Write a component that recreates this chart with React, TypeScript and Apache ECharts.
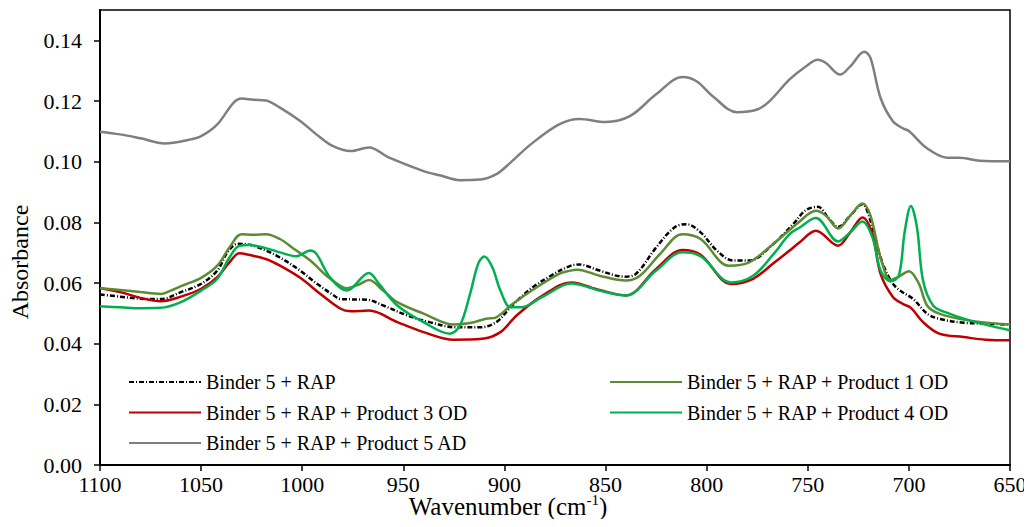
import React, { useEffect, useRef } from "react";
import * as echarts from "echarts";

const FONT = "Liberation Serif";
const LABEL_FONT = "Times New Roman";

const seriesNames = [
  "Binder 5 + RAP",
  "Binder 5 + RAP + Product 1 OD",
  "Binder 5 + RAP + Product 3 OD",
  "Binder 5 + RAP + Product 4 OD",
  "Binder 5 + RAP + Product 5 AD",
];

const xTicks = { min: 650, max: 1100, interval: 50 };
const yTicks = { min: 0, max: 0.15, interval: 0.02 };

const binder: [number, number][] = [
  [1100, 0.0562], [1090, 0.0555], [1080, 0.0548], [1070, 0.0547], [1060, 0.057], [1050, 0.0597],
  [1042, 0.0641], [1037, 0.0701], [1032, 0.0729], [1026, 0.0726], [1018, 0.0707], [1011, 0.0684],
  [1001, 0.0641], [993, 0.0599], [985, 0.0562], [981, 0.0547], [968, 0.0545], [960, 0.0526],
  [948, 0.0493], [937, 0.0471], [924, 0.0454], [912, 0.0454], [904, 0.0471], [897, 0.052],
  [887, 0.0581], [877, 0.0624], [868, 0.0655], [863, 0.0661], [853, 0.0641], [841, 0.0621],
  [835, 0.063], [825, 0.0717], [816, 0.0783], [810, 0.0794], [803, 0.0767], [795, 0.0707],
  [787, 0.0674], [779, 0.0674], [767, 0.0729], [757, 0.0796], [751, 0.084], [745, 0.0851],
  [740, 0.0816], [735, 0.0785], [729, 0.0822], [723, 0.086], [719, 0.0805], [714, 0.0684],
  [709, 0.0608], [705, 0.0578], [698, 0.0548], [691, 0.0499], [685, 0.0482], [673, 0.0469],
  [660, 0.0466], [650, 0.0462],
];

const product1: [number, number][] = [
  [1100, 0.0583], [1090, 0.0577], [1080, 0.057], [1070, 0.0564], [1065, 0.0575], [1059, 0.0592],
  [1050, 0.0617], [1042, 0.0657], [1036, 0.0717], [1030, 0.0761], [1024, 0.0759], [1018, 0.0761],
  [1011, 0.0745], [1004, 0.0712], [996, 0.0674], [988, 0.0624], [981, 0.059], [978, 0.0583],
  [972, 0.0595], [967, 0.061], [960, 0.0575], [953, 0.0537], [940, 0.0499], [925, 0.0463],
  [917, 0.0468], [909, 0.0482], [904, 0.0487], [896, 0.0531], [884, 0.0586], [873, 0.063],
  [868, 0.064], [864, 0.0644], [853, 0.0624], [840, 0.0608], [833, 0.0624], [823, 0.0696],
  [812, 0.0761], [803, 0.0745], [789, 0.0657], [779, 0.0668], [767, 0.0729], [754, 0.0803],
  [746, 0.0838], [741, 0.0822], [735, 0.078], [729, 0.0822], [723, 0.0862], [719, 0.0822],
  [714, 0.0684], [709, 0.061], [705, 0.0621], [700, 0.0639], [695, 0.0597], [691, 0.0526],
  [685, 0.0499], [670, 0.0476], [650, 0.0463],
];

const product3: [number, number][] = [
  [1100, 0.0583], [1090, 0.057], [1080, 0.0551], [1070, 0.054], [1060, 0.0555], [1050, 0.0581],
  [1042, 0.0619], [1036, 0.0668], [1031, 0.0698], [1026, 0.0692], [1018, 0.0679], [1011, 0.0657],
  [1001, 0.0617], [991, 0.0564], [981, 0.0515], [976, 0.0507], [967, 0.0509], [953, 0.0471],
  [940, 0.0438], [925, 0.0413], [911, 0.0416], [902, 0.0438], [894, 0.0493], [881, 0.0559],
  [867, 0.0602], [853, 0.0577], [840, 0.0559], [825, 0.0646], [812, 0.0709], [803, 0.0693],
  [788, 0.0597], [777, 0.0614], [767, 0.0665], [759, 0.0707], [754, 0.0734], [746, 0.0772],
  [735, 0.0723], [729, 0.0767], [723, 0.0816], [718, 0.0761], [714, 0.063], [708, 0.0555],
  [703, 0.0531], [699, 0.0518], [693, 0.0471], [685, 0.0433], [673, 0.0422], [662, 0.0413],
  [650, 0.0411],
];

const product4: [number, number][] = [
  [1100, 0.0523], [1090, 0.052], [1080, 0.0517], [1070, 0.0518], [1060, 0.0537], [1050, 0.0575],
  [1042, 0.0614], [1036, 0.0684], [1031, 0.0723], [1026, 0.0725], [1018, 0.0715], [1011, 0.0701],
  [1003, 0.0688], [996, 0.0707], [993, 0.0696], [986, 0.0616], [978, 0.0575], [967, 0.0633],
  [962, 0.0597], [953, 0.0526], [940, 0.0471], [927, 0.0433], [922, 0.046], [917, 0.0564],
  [913, 0.0663], [910, 0.0687], [906, 0.0652], [902, 0.0575], [897, 0.052], [892, 0.052],
  [881, 0.0555], [867, 0.0598], [853, 0.0575], [840, 0.0559], [825, 0.0641], [812, 0.0701],
  [803, 0.0688], [788, 0.0602], [777, 0.0624], [767, 0.0695], [759, 0.0761], [754, 0.0783],
  [746, 0.0814], [735, 0.0737], [729, 0.0767], [723, 0.0803], [718, 0.075], [714, 0.0641],
  [709, 0.0606], [705, 0.0624], [702, 0.0772], [699, 0.0854], [696, 0.0783], [693, 0.0608],
  [688, 0.0526], [680, 0.0499], [667, 0.0471], [650, 0.0444],
];

const product5: [number, number][] = [
  [1100, 0.1099], [1090, 0.109], [1080, 0.1077], [1068, 0.106], [1056, 0.1072], [1050, 0.1084],
  [1042, 0.1123], [1034, 0.1194], [1030, 0.1208], [1024, 0.1204], [1018, 0.1202], [1011, 0.1178],
  [1001, 0.1134], [993, 0.109], [985, 0.1052], [976, 0.1035], [967, 0.1047], [957, 0.1013],
  [940, 0.0969], [932, 0.0955], [922, 0.0939], [912, 0.0941], [904, 0.0959], [897, 0.0997],
  [887, 0.1057], [873, 0.1123], [863, 0.1141], [850, 0.1131], [838, 0.115], [825, 0.1222],
  [812, 0.1279], [805, 0.1265], [797, 0.1216], [785, 0.1163], [775, 0.1172], [769, 0.1199],
  [759, 0.1271], [751, 0.1314], [745, 0.1336], [741, 0.1325], [734, 0.1287], [729, 0.1314],
  [722, 0.1362], [719, 0.1342], [714, 0.121], [708, 0.1134], [703, 0.111], [700, 0.1101],
  [691, 0.1044], [681, 0.1013], [675, 0.1013], [665, 0.1003], [650, 0.1001],
];

export default function App() {
  const ref = useRef<HTMLDivElement>(null);
  useEffect(() => {
    if (!ref.current) return;
    const chart = echarts.init(ref.current, null, { renderer: "svg" });
    const lw = 2.5;
    const mk = (name: string, data: [number, number][], color: string, type: any = "solid", z = 2) => ({
      name,
      type: "line",
      data,
      smooth: 0.35,
      symbol: "none",
      z,
      lineStyle: { color, width: lw, type },
      itemStyle: { color },
    });
    const legendBase = (left: number, data: string[]) => ({
      orient: "vertical",
      left,
      top: 372,
      padding: 0,
      itemWidth: 72,
      itemHeight: 12,
      itemGap: 10.5,
      itemStyle: { opacity: 0 },
      textStyle: { fontFamily: LABEL_FONT, fontSize: 20, color: "#000" },
      data,
    });
    chart.setOption({
      animation: false,
      textStyle: { fontFamily: LABEL_FONT },
      grid: {
        left: 100,
        right: 22,
        top: 10,
        bottom: 62,
        show: true,
        borderColor: "#000",
        borderWidth: 1.5,
      },
      xAxis: {
        type: "value",
        inverse: true,
        min: xTicks.min,
        max: xTicks.max,
        interval: xTicks.interval,
        axisLine: { lineStyle: { color: "#000", width: 2 } },
        axisTick: { show: true, length: 6, lineStyle: { color: "#000", width: 1.5 } },
        axisLabel: {
          color: "#000",
          fontFamily: LABEL_FONT,
          fontSize: 22,
          margin: 8,
          formatter: (v: number) => String(v),
        },
        splitLine: { show: false },
      },
      yAxis: {
        type: "value",
        min: yTicks.min,
        max: yTicks.max,
        interval: yTicks.interval,
        axisLine: { show: true, lineStyle: { color: "#000", width: 2 } },
        axisTick: { show: true, length: 6, lineStyle: { color: "#000", width: 1.5 } },
        axisLabel: {
          color: "#000",
          fontFamily: LABEL_FONT,
          fontSize: 22,
          margin: 18,
          showMaxLabel: false,
          formatter: (v: number) => v.toFixed(2),
        },
        splitLine: { show: false },
      },
      legend: [
        legendBase(128, [seriesNames[0], seriesNames[2], seriesNames[4]]),
        legendBase(609, [seriesNames[1], seriesNames[3]]),
      ],
      graphic: [
        {
          type: "text",
          x: 20,
          y: 262,
          rotation: Math.PI / 2,
          style: {
            text: "Absorbance",
            fontFamily: FONT,
            fontSize: 24,
            fill: "#000",
            align: "center",
            verticalAlign: "middle",
          },
        },
        {
          type: "text",
          x: 508,
          y: 492,
          style: {
            text: "{a|Wavenumber (cm}{b|-1}{a|)}",
            align: "center",
            verticalAlign: "top",
            rich: {
              a: { fontFamily: FONT, fontSize: 25, fill: "#000", lineHeight: 27, verticalAlign: "bottom" },
              b: { fontFamily: FONT, fontSize: 15, fill: "#000", verticalAlign: "top", lineHeight: 27 },
            },
          },
        },
      ],
      series: [
        mk(seriesNames[4], product5, "#7F7F7F", "solid", 2),
        mk(seriesNames[0], binder, "#000000", [5, 2, 1, 2], 3),
        mk(seriesNames[1], product1, "#5B8C33", "solid", 4),
        mk(seriesNames[2], product3, "#C00000", "solid", 3),
        mk(seriesNames[3], product4, "#00B050", "solid", 5),
      ],
    });
    return () => chart.dispose();
  }, []);
  return <div ref={ref} style={{ width: 1032, height: 527, margin: -8, fontFamily: "'Liberation Serif', serif" }} />;
}
